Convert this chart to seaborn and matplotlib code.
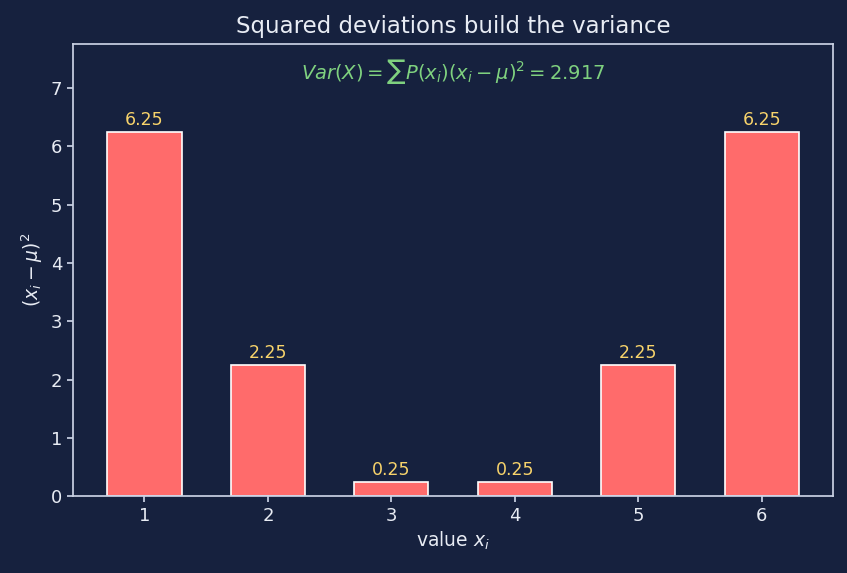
import matplotlib
matplotlib.use('Agg')

import pandas as pd
import matplotlib.pyplot as plt
import seaborn as sns

values = [1, 2, 3, 4, 5, 6]
sq_dev = [6.25, 2.25, 0.25, 0.25, 2.25, 6.25]
variance = 2.917

bg = '#16213e'
fg = '#e8ecf4'
spine = '#c9d1e3'

sns.set_theme(style='dark')
plt.rcParams['font.family'] = ['DejaVu Sans']

df = pd.DataFrame({'x': [str(v) for v in values], 'y': sq_dev})

fig, ax = plt.subplots(figsize=(8.47, 5.73), dpi=100)
fig.patch.set_facecolor(bg)
ax.set_facecolor(bg)

sns.barplot(data=df, x='x', y='y', color='#ff6b6b', saturation=1, width=0.6,
            edgecolor='white', linewidth=1.2, ax=ax)

for i, v in enumerate(sq_dev):
    ax.text(i, v + 0.05, f'{v:.2f}', ha='center', va='bottom', color='#f7d36b', fontsize=12.5)

ax.text(0.5, 0.94, rf'$Var(X) = \sum P(x_i)(x_i-\mu)^2 = {variance}$', transform=ax.transAxes,
        ha='center', va='center', color='#7fd17f', fontsize=14)

ax.set_xlim(-0.58, len(values) - 1 + 0.58)
ax.set_ylim(0, max(sq_dev) * 1.24)
ax.set_title('Squared deviations build the variance', color=fg, fontsize=16.5, pad=8)
ax.set_xlabel(r'value $x_i$', color=fg, fontsize=13.5)
ax.set_ylabel(r'$(x_i-\mu)^2$', color=fg, fontsize=13.5)
ax.tick_params(colors=fg, labelsize=13, length=4, bottom=True, left=True, color=spine)
for s in ax.spines.values():
    s.set_color(spine)
    s.set_visible(True)
ax.grid(False)

fig.subplots_adjust(left=0.086, right=0.984, top=0.923, bottom=0.134)
fig.savefig('out.png', dpi=100, facecolor=bg)
